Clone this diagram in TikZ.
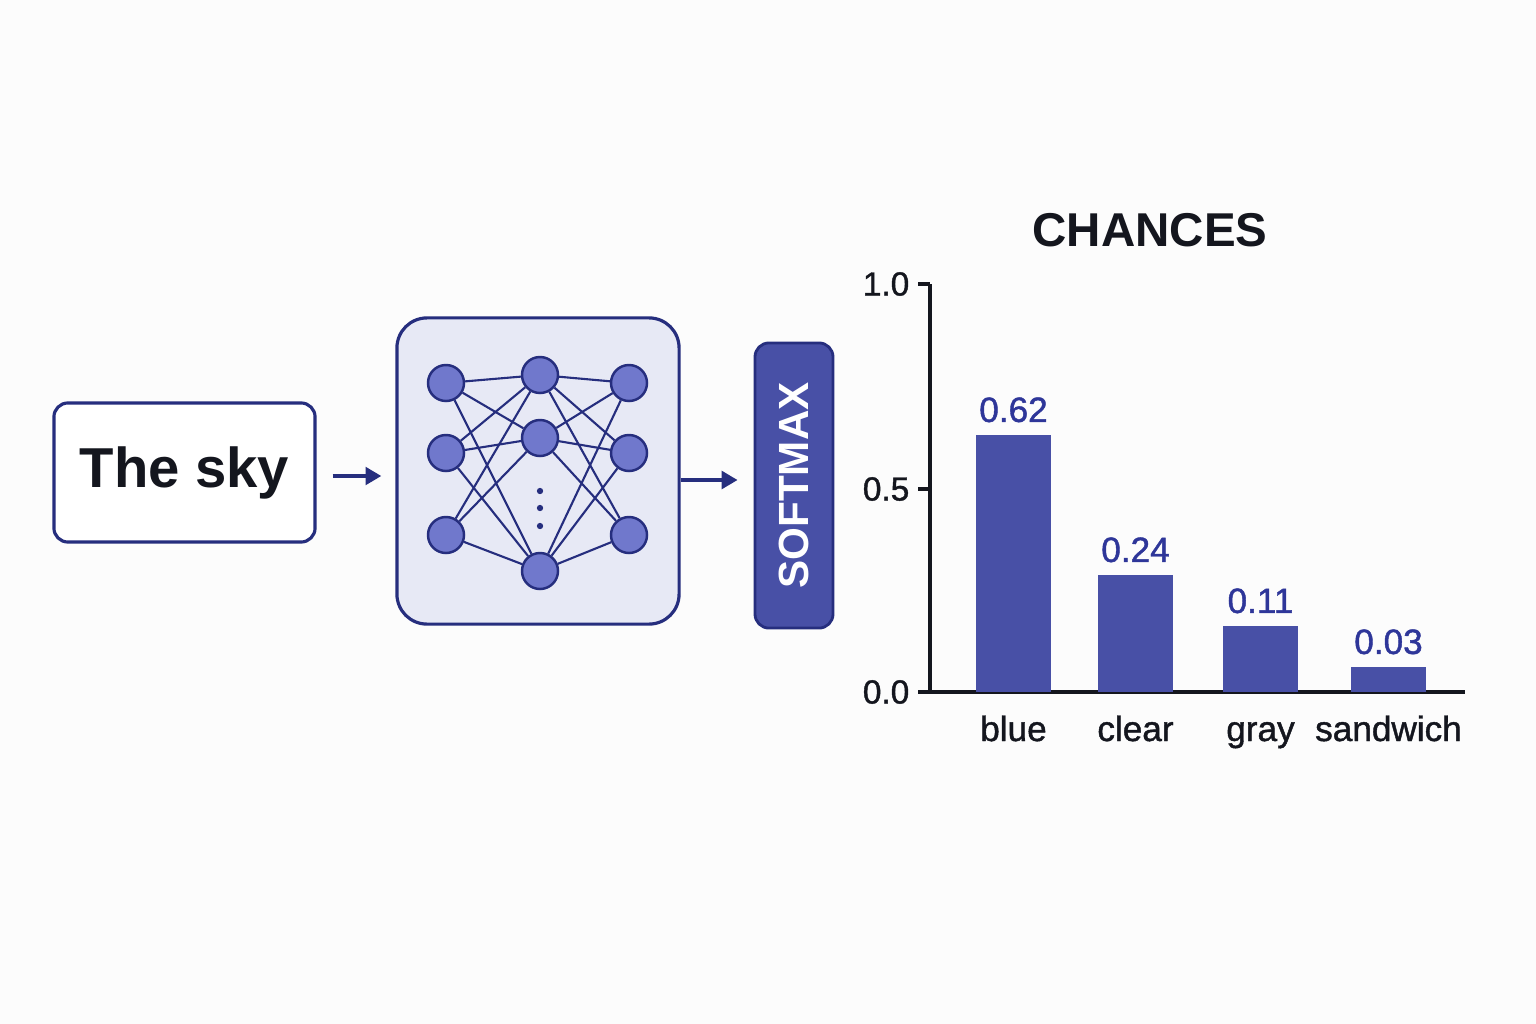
\documentclass[tikz,border=0pt]{standalone}
\usepackage{fontspec}
\setmainfont{Liberation Sans}
\newfontfamily\mediumfont[FakeBold=1.2]{Liberation Sans}
\usetikzlibrary{arrows.meta}
\definecolor{navy}{HTML}{262E7E}
\definecolor{lav}{HTML}{E7E9F5}
\definecolor{unit}{HTML}{7078CC}
\definecolor{barc}{HTML}{4850A6}
\definecolor{valc}{HTML}{2E3699}
\definecolor{ink}{HTML}{14161E}
\definecolor{bg}{HTML}{FCFCFC}
\tikzset{
  unitnode/.style={draw=navy,fill=unit,shape=circle,line width=0.7pt,minimum size=0.36cm,inner sep=0pt},
  link/.style={navy,line width=0.6pt},
  flow/.style={navy,line width=1pt,-{Triangle[length=4.5pt,width=5pt]}},
  valtext/.style={text=valc,font=\mediumfont\fontsize{10}{12}\selectfont,anchor=south,inner sep=0pt},
  cattext/.style={text=ink,font=\mediumfont\fontsize{10}{12}\selectfont,anchor=base,inner sep=0pt},
  ticktext/.style={text=ink,font=\mediumfont\fontsize{9.5}{11}\selectfont,anchor=east,inner sep=0pt}
}
\begin{document}
\begin{tikzpicture}[x=0.01cm,y=-0.01cm]
\fill[bg] (0,0) rectangle (1536,1024);
\useasboundingbox (0,0) rectangle (1536,1024);
% input, network, softmax
\node[draw=navy,fill=white,line width=0.9pt,rounded corners=0.14cm,minimum width=2.61cm,minimum height=1.39cm,
  font=\fontsize{16}{19}\selectfont\bfseries,text=ink,name=sky] at (184.5,472.5){The sky};
\node[draw=navy,fill=lav,line width=0.9pt,rounded corners=0.3cm,minimum width=2.82cm,minimum height=3.06cm,name=net] at (538,471){};
\node[draw=navy,fill=barc,line width=0.8pt,rounded corners=0.14cm,minimum width=0.78cm,minimum height=2.85cm,name=soft] at (794,485.5){};
\node[rotate=90,text=white,font=\fontsize{12}{14}\selectfont\bfseries,name=softtxt] at (soft.center){SOFTMAX};
\foreach \y [count=\i] in {383,453,535}{
	\node[unitnode,name=a\i] at (446,\y){};
	\node[unitnode,name=c\i] at (629,\y){};
};
\foreach \y [count=\i] in {375,438,571}{
	\node[unitnode,name=b\i] at (540,\y){};
};
\foreach \i in {1,2,3}{
	\foreach \j in {1,2,3}{
		\draw[link] (a\i)--(b\j);
		\draw[link] (b\i)--(c\j);
	};
};
\foreach \y in {491,508,526}{
	\fill[navy] (540,\y) circle[radius=0.9pt];
};
\draw[flow,shorten <=0.16cm,shorten >=0.14cm] ([yshift=-0.035cm]sky.east) coordinate (s0)--(s0 -| net.west);
\draw[flow,shorten >=0.16cm] ([yshift=-0.09cm]net.east) coordinate (n0)--(n0 -| soft.west);
% chart
\node[font=\fontsize{13.5}{16}\selectfont\bfseries,text=ink,name=title] at (1150,230){CHANCES};
\draw[ink,line width=1pt] (930,284)--(930,692)--(1465,692);
\foreach \y/\l [count=\i] in {284/1.0,489/0.5,692/0.0}{
	\draw[ink,line width=1pt] (918,\y)--(930,\y);
	\node[ticktext,name=t\i] at (910,\y){\l};
};
\foreach \x/\t/\v/\c [count=\i] in {976/435/0.62/blue,1098/575/0.24/clear,1223/626/0.11/gray,1351/667/0.03/sandwich}{
	\fill[barc] (\x,\t) rectangle ({\x+75},692);
	\node[valtext,name=v\i] at ({\x+37.5},{\t-12}){\v};
	\node[cattext,name=k\i] at ({\x+37.5},741){\c};
};
\end{tikzpicture}
\end{document}
